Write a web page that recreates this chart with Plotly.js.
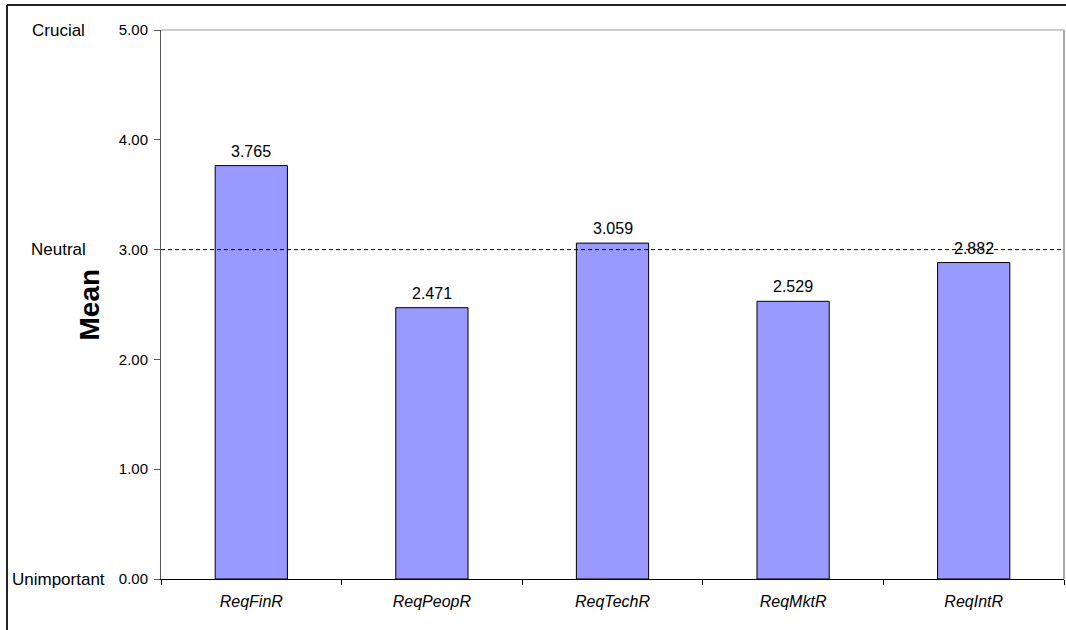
<!DOCTYPE html>
<html>
<head>
<meta charset="utf-8">
<script src="https://cdn.plot.ly/plotly-3.0.1.min.js"></script>
<style>
  html, body { margin: 0; padding: 0; background: #fff; }
  #chart { width: 1066px; height: 630px; }
</style>
</head>
<body>
<div id="chart"></div>
<script>
// Mean importance rating per requirement item
const categories = ["ReqFinR", "ReqPeopR", "ReqTechR", "ReqMktR", "ReqIntR"];
const means = [3.765, 2.471, 3.059, 2.529, 2.882];
const yTicks = [0, 1, 2, 3, 4, 5];
const yTickText = ["0.00", "1.00", "2.00", "3.00", "4.00", "5.00"];
// Verbal anchors of the rating scale
const scaleLabels = ["Unimportant", "Neutral", "Crucial"];
const scaleValues = [0, 3, 5];
const neutralValue = 3;

const FONT = "Arial, 'Liberation Sans', sans-serif";
const W = 1066, H = 630;
const mL = 161, mR = 2, mT = 30, mB = 51;
const plotW = W - mL - mR;
const px2paperX = p => (p - mL) / plotW;
const plotH = H - mT - mB;
const px2paperY = p => (H - mB - p) / plotH;

const bars = {
  type: "bar",
  x: categories,
  y: means,
  width: 0.4,
  marker: { color: "#9999FF", line: { color: "#000", width: 1 } },
  hoverinfo: "x+y"
};

const annotations = [];
// value labels above each bar
categories.forEach((c, i) => {
  annotations.push({
    x: c, y: means[i], xref: "x", yref: "y",
    text: means[i].toFixed(3), showarrow: false,
    yanchor: "bottom", yshift: 4,
    font: { family: FONT, size: 16, color: "#000" }
  });
});
// scale anchors to the left of the tick labels
scaleLabels.forEach((t, i) => {
  annotations.push({
    x: px2paperX(58.5), y: scaleValues[i], xref: "paper", yref: "y",
    text: t, showarrow: false, xanchor: "center", yanchor: "middle",
    font: { family: FONT, size: 17, color: "#000" }
  });
});
// axis title
annotations.push({
  x: px2paperX(89), y: 2.5, xref: "paper", yref: "y",
  text: "<b>Mean</b>", showarrow: false, textangle: -90,
  xanchor: "center", yanchor: "middle",
  font: { family: FONT, size: 28, color: "#000" }
});

const shapes = [
  // neutral reference line
  { type: "line", xref: "paper", yref: "y", x0: 0, x1: 1, y0: neutralValue, y1: neutralValue,
    line: { color: "#000", width: 1, dash: "4px,3px" } },
  // plot frame: top and right edges
  { type: "line", xref: "paper", yref: "paper", x0: 0, x1: 1, y0: 1, y1: 1,
    line: { color: "#9a9a9a", width: 1 } },
  { type: "line", xref: "paper", yref: "paper", x0: 1, x1: 1, y0: 0, y1: 1,
    line: { color: "#aaaaaa", width: 2 } },
  // outer chart border
  { type: "line", xref: "paper", yref: "paper", x0: px2paperX(7), x1: px2paperX(1080),
    y0: px2paperY(5), y1: px2paperY(5), line: { color: "#222", width: 2 } },
  { type: "line", xref: "paper", yref: "paper", x0: px2paperX(7), x1: px2paperX(7),
    y0: px2paperY(5), y1: px2paperY(650), line: { color: "#222", width: 2 } }
];

const layout = {
  width: W, height: H,
  margin: { l: mL, r: mR, t: mT, b: mB, pad: 0 },
  paper_bgcolor: "#fff", plot_bgcolor: "#fff",
  showlegend: false,
  bargap: 0.6,
  font: { family: FONT, size: 15, color: "#000" },
  xaxis: {
    type: "category",
    showline: true, linecolor: "#000", linewidth: 1,
    ticks: "outside", ticklen: 5, tickcolor: "#000", tickson: "boundaries",
    tickfont: { family: FONT, size: 16, color: "#000", style: "italic" },
    ticklabelstandoff: 8,
    showgrid: false, zeroline: false, fixedrange: true
  },
  yaxis: {
    range: [0, 5],
    tickvals: yTicks, ticktext: yTickText,
    showline: true, linecolor: "#555", linewidth: 1,
    ticks: "outside", ticklen: 6, tickcolor: "#555",
    tickfont: { family: FONT, size: 15, color: "#000" },
    ticklabelstandoff: 3,
    showgrid: false, zeroline: false, fixedrange: true
  },
  annotations: annotations,
  shapes: shapes
};

Plotly.newPlot("chart", [bars], layout, { displayModeBar: false, staticPlot: true });
</script>
</body>
</html>
